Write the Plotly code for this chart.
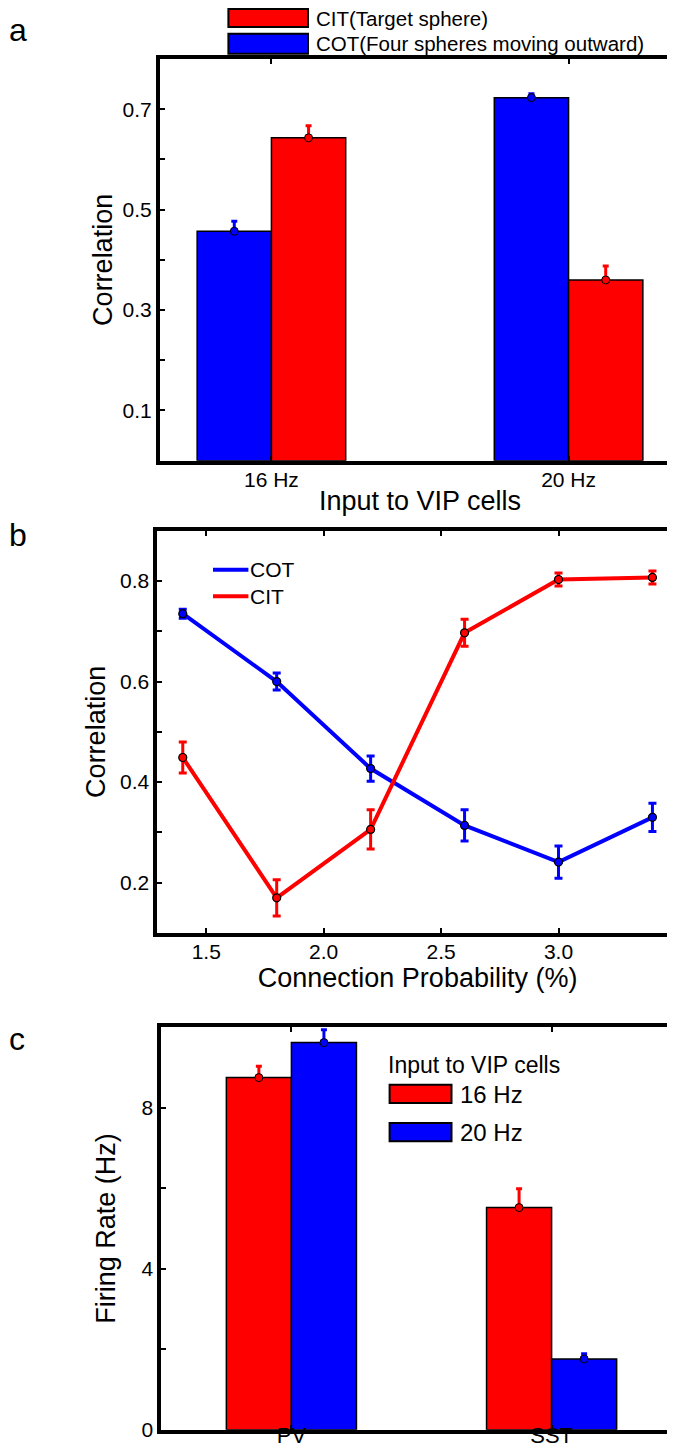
import plotly.graph_objects as go

# ---------------- data ----------------
# Panel a
a_groups = ["16 Hz", "20 Hz"]
a_cot = [0.457, 0.723]
a_cot_err = [0.020, 0.008]
a_cit = [0.643, 0.360]
a_cit_err = [0.024, 0.028]

# Panel b
b_prob = [1.4, 1.8, 2.2, 2.6, 3.0, 3.4]
b_cot = [0.735, 0.600, 0.427, 0.314, 0.241, 0.330]
b_cot_err = [0.009, 0.017, 0.025, 0.031, 0.032, 0.028]
b_cit = [0.449, 0.170, 0.306, 0.697, 0.803, 0.807]
b_cit_err = [0.031, 0.036, 0.039, 0.027, 0.013, 0.013]

# Panel c
c_cells = ["PV", "SST"]
c_16 = [8.75, 5.52]
c_16_err = [0.28, 0.47]
c_20 = [9.62, 1.76]
c_20_err = [0.32, 0.13]

# ---------------- layout helpers ----------------
W, H = 675, 1447
def fx(px):
    return px / W
def fy(py):
    return 1 - py / H

FONT = "Liberation Sans, Arial, Helvetica, sans-serif"
BLUE = "#0000FF"
RED = "#FF0000"
BW = 0.25

fig = go.Figure()

def bar(x, y, color, xa, ya, offset, name):
    return go.Bar(x=x, y=y, width=BW, offset=offset, name=name,
                  marker=dict(color=color, line=dict(color="black", width=1.5)),
                  xaxis=xa, yaxis=ya, showlegend=False, hoverinfo="skip")

def pts(x, y, err, color, xa, ya, name):
    return go.Scatter(x=x, y=y, mode="markers", name=name, showlegend=False,
                      marker=dict(size=8, color=color, line=dict(color="black", width=1)),
                      error_y=dict(type="data", array=err, arrayminus=[0] * len(err),
                                   symmetric=False, color=color, thickness=3, width=3),
                      xaxis=xa, yaxis=ya)

# Panel a
ia = list(range(len(a_groups)))
fig.add_trace(bar(ia, a_cot, BLUE, "x", "y", -BW, "COT(Four spheres moving outward)"))
fig.add_trace(bar(ia, a_cit, RED, "x", "y", 0, "CIT(Target sphere)"))
fig.add_trace(pts([i - BW / 2 for i in ia], a_cot, a_cot_err, BLUE, "x", "y", "COT"))
fig.add_trace(pts([i + BW / 2 for i in ia], a_cit, a_cit_err, RED, "x", "y", "CIT"))

# Panel b
for yv, ev, col, nm in [(b_cot, b_cot_err, BLUE, "COT"), (b_cit, b_cit_err, RED, "CIT")]:
    fig.add_trace(go.Scatter(x=b_prob, y=yv, mode="lines+markers", name=nm, showlegend=False,
                             line=dict(color=col, width=4),
                             marker=dict(size=8, color=col, line=dict(color="black", width=1.2)),
                             error_y=dict(type="data", array=ev, color=col, thickness=3, width=4),
                             xaxis="x2", yaxis="y2"))

# Panel c
ic = list(range(len(c_cells)))
fig.add_trace(bar(ic, c_16, RED, "x3", "y3", -BW, "16 Hz"))
fig.add_trace(bar(ic, c_20, BLUE, "x3", "y3", 0, "20 Hz"))
fig.add_trace(pts([i - BW / 2 for i in ic], c_16, c_16_err, RED, "x3", "y3", "16 Hz"))
fig.add_trace(pts([i + BW / 2 for i in ic], c_20, c_20_err, BLUE, "x3", "y3", "20 Hz"))

axis_common = dict(showline=True, linecolor="black", linewidth=4, mirror="ticks",
                   ticks="inside", ticklen=5, tickwidth=1.5, tickcolor="black",
                   showgrid=False, zeroline=False, automargin=False,
                   tickfont=dict(family=FONT, size=21, color="black"))

def yt(vals, labeled):
    return [f"{v:g}" if v in labeled else "" for v in vals]

a_yticks = [0.1, 0.2, 0.3, 0.4, 0.5, 0.6, 0.7]
b_yticks = [0.2, 0.3, 0.4, 0.5, 0.6, 0.7, 0.8]
b_xticks = [1.5, 2.0, 2.5, 3.0, 3.5]
c_yticks = [0, 2, 4, 6, 8]

fig.update_layout(
    width=W, height=H, autosize=False,
    margin=dict(l=0, r=0, t=0, b=0),
    paper_bgcolor="white", plot_bgcolor="white",
    barmode="overlay", template="none",
    font=dict(family=FONT, color="black"),
    xaxis=dict(axis_common, domain=[fx(152), fx(672)], range=[-0.375, 1.375], anchor="y",
               tickvals=ia, ticktext=a_groups, ticklabelstandoff=-3,
               title=dict(text="Input to VIP cells", font=dict(size=27), standoff=2)),
    yaxis=dict(axis_common, domain=[fy(452.7), fy(51)], range=[0, 0.8], anchor="x",
               tickvals=a_yticks, ticktext=yt(a_yticks, [0.1, 0.3, 0.5, 0.7]),
               title=dict(text="Correlation", font=dict(size=27), standoff=3)),
    xaxis2=dict(axis_common, domain=[fx(149.4), fx(669.8)], range=[1.292, 3.508], anchor="y2",
                tickvals=b_xticks, ticktext=[f"{v:.1f}" for v in b_xticks], ticklabelstandoff=-3,
                title=dict(text="Connection Probability (%)", font=dict(size=27), standoff=2)),
    yaxis2=dict(axis_common, domain=[fy(925), fy(522.7)], range=[0.1, 0.9], anchor="x2",
                tickvals=b_yticks, ticktext=[f"{v:.1f}" if v in [0.2, 0.4, 0.6, 0.8] else "" for v in b_yticks],
                title=dict(text="Correlation", font=dict(size=27), standoff=8)),
    xaxis3=dict(axis_common, domain=[fx(153.3), fx(673.7)], range=[-0.5, 1.5], anchor="y3",
                tickvals=ic, ticktext=c_cells, ticklabelstandoff=-17,
                tickfont=dict(family=FONT, size=22, color="black")),
    yaxis3=dict(axis_common, domain=[fy(1421.7), fy(1019.3)], range=[0, 10], anchor="x3",
                tickvals=c_yticks, ticktext=yt(c_yticks, [0, 4, 8]),
                tickfont=dict(family=FONT, size=21, color="black"),
                title=dict(text="Firing Rate (Hz)", font=dict(size=27), standoff=19)),
)

shapes = []
ann = []

def rect(x0, x1, y0, y1, color):
    shapes.append(dict(type="rect", xref="paper", yref="paper",
                       x0=fx(x0), x1=fx(x1), y0=fy(y1), y1=fy(y0),
                       fillcolor=color, line=dict(color="black", width=2)))

def text(x, y, s, size, anchor="left"):
    ann.append(dict(xref="paper", yref="paper", x=fx(x), y=fy(y), text=s, showarrow=False,
                    xanchor=anchor, yanchor="middle", font=dict(family=FONT, size=size, color="black")))

# panel a legend
rect(220.4, 300, 1, 19, RED)
rect(220.4, 300, 25.7, 45.7, BLUE)
text(306, 11, "CIT(Target sphere)", 20.5)
text(306, 35.5, "COT(Four spheres moving outward)", 20.5)

# panel b legend
for yy, col, nm in [(561.7, BLUE, "COT"), (588.3, RED, "CIT")]:
    shapes.append(dict(type="line", xref="paper", yref="paper", x0=fx(205), x1=fx(240.4),
                       y0=fy(yy), y1=fy(yy), line=dict(color=col, width=4)))
    text(240, yy, nm, 21)

# panel c legend
text(378, 1057, "Input to VIP cells", 23)
rect(381.6, 443.5, 1076.7, 1095, RED)
rect(381.6, 443.5, 1115, 1133.3, BLUE)
text(450, 1086, "16 Hz", 24)
text(450, 1124, "20 Hz", 24)

# panel letters
text(-1, 22, "a", 32)
text(-1, 527, "b", 32)
text(-1, 1031, "c", 32)

fig.update_layout(shapes=shapes, annotations=ann)
fig.write_html("out.html")
